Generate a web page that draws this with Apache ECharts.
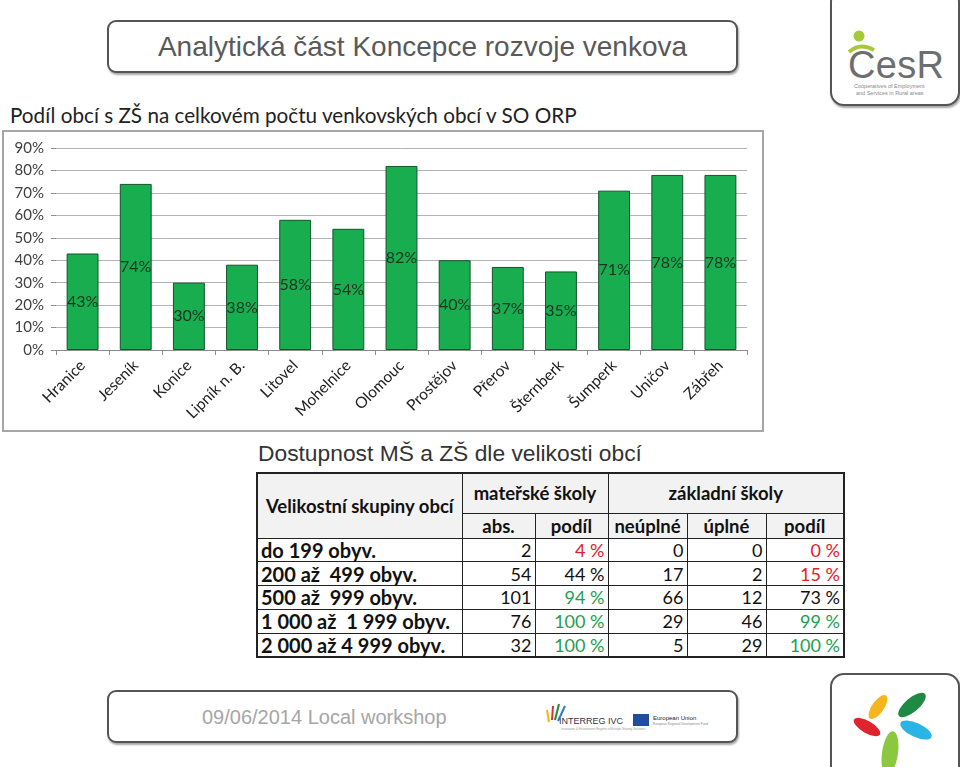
<!DOCTYPE html>
<html>
<head>
<meta charset="utf-8">
<script src="https://cdn.jsdelivr.net/npm/echarts@6/dist/echarts.min.js"></script>
<style>
  html, body { margin: 0; padding: 0; background: #fff; }
  body { width: 960px; height: 767px; position: relative; overflow: hidden; font-family: Lato, "Noto Sans", sans-serif; }
  .box {
    position: absolute; box-sizing: border-box;
    border: 2px solid #555; border-radius: 9px;
    box-shadow: 1px 2px 2px rgba(0,0,0,0.35);
    background: #fff;
  }
  #titleBox { left: 107px; top: 20px; width: 631px; height: 53px; }
  #titleBox span {
    display: block; text-align: center; line-height: 49px;
    font-family: "Liberation Sans", Arial, sans-serif; font-size: 28px; color: #595959;
  }
  #footBox { left: 107px; top: 690px; width: 631px; height: 53px; }
  #footBox .date {
    position: absolute; left: 93px; top: 14px;
    font-family: "Liberation Sans", Arial, sans-serif; font-size: 20px; color: #a6a6a6;
  }
  #logoTop { left: 830px; top: -12px; width: 130px; height: 118px; border-radius: 14px; }
  #logoBot { left: 830px; top: 673px; width: 130px; height: 110px; border-radius: 14px; }
  #subTitle {
    position: absolute; left: 10px; top: 103px;
    font-size: 20.7px; line-height: 24px; color: #222;
  }
  #chartFrame {
    position: absolute; left: 2px; top: 130px; width: 758px; height: 298px;
    border: 2px solid #a6a6a6;
  }
  #chart { width: 758px; height: 298px; }
  #tableTitle {
    position: absolute; left: 258px; top: 440px;
    font-family: "Liberation Sans", Arial, sans-serif; font-size: 22.8px; color: #333;
  }
  #tbl {
    position: absolute; left: 256px; top: 472px;
    border-collapse: collapse; font-size: 17.5px; color: #111;
    border: 2px solid #222;
  }
  #tbl td { border: 1px solid #222; padding: 0 3px; white-space: nowrap; line-height: 22px; }
  #tbl .hd { background: #f2f2f2; font-weight: bold; text-align: center; font-size: 18.5px; }
  #tbl .rowname { font-weight: bold; text-align: left; padding-left: 3px; font-size: 20px; }
  #tbl .num { text-align: right; font-size: 18px; }
</style>
</head>
<body>
<div class="box" id="titleBox"><span>Analytická část Koncepce rozvoje venkova</span></div>

<div class="box" id="logoTop">
  <svg width="126" height="114" viewBox="0 0 126 114">
    <circle cx="27" cy="46" r="5.5" fill="#a6c93a"/>
    <path d="M17 62 Q 28 52 42 60" stroke="#a6c93a" stroke-width="4" fill="none"/>
    <text x="16" y="88" font-family="Liberation Sans, Arial" font-size="38" fill="#6d6e70" textLength="96">CesR</text>
    <text x="22" y="98" font-family="Liberation Sans, Arial" font-size="5.5" fill="#888">Cooperatives of Employment</text>
    <text x="24" y="105" font-family="Liberation Sans, Arial" font-size="5.5" fill="#888">and Services in Rural areas</text>
  </svg>
</div>

<div id="subTitle">Podíl obcí s ZŠ na celkovém počtu venkovských obcí v SO ORP</div>

<div id="chartFrame"><div id="chart"></div></div>

<div id="tableTitle">Dostupnost MŠ a ZŠ dle velikosti obcí</div>
<table id="tbl"></table>

<div class="box" id="footBox">
  <span class="date">09/06/2014 Local workshop</span>
  <svg style="position:absolute;left:432px;top:8px" width="190" height="34" viewBox="0 0 190 34">
    <path d="M8 22 L6 10" stroke="#f5b800" stroke-width="2"/>
    <path d="M11 20 L12 6" stroke="#e03030" stroke-width="2"/>
    <path d="M14 20 L18 4" stroke="#2a8a3a" stroke-width="2"/>
    <path d="M17 21 L24 6" stroke="#2b7bc4" stroke-width="2"/>
    <text x="18" y="24" font-family="Liberation Sans, Arial" font-size="9" fill="#334">INTERREG IVC</text>
    <text x="20" y="30" font-family="Liberation Sans, Arial" font-size="3" fill="#999">Innovation &amp; Environment Regions of Europe Sharing Solutions</text>
    <rect x="92" y="14" width="16" height="12" fill="#1f4ea1"/>
    <text x="112" y="20" font-family="Liberation Sans, Arial" font-size="6" fill="#223">European Union</text>
    <text x="112" y="25" font-family="Liberation Sans, Arial" font-size="3.2" fill="#888">European Regional Development Fund</text>
  </svg>
</div>

<div class="box" id="logoBot">
  <svg width="126" height="110" viewBox="0 0 126 110">
    <ellipse cx="46" cy="32" rx="6" ry="14" fill="#f5b51c" transform="rotate(35 46 32)"/>
    <ellipse cx="80" cy="30" rx="7" ry="17" fill="#1e8a44" transform="rotate(50 80 30)"/>
    <ellipse cx="35" cy="52" rx="6" ry="15" fill="#e0242e" transform="rotate(-60 35 52)"/>
    <ellipse cx="84" cy="55" rx="7" ry="17" fill="#2ab4e6" transform="rotate(-65 84 55)"/>
    <ellipse cx="58" cy="78" rx="8" ry="22" fill="#8cc83f" transform="rotate(8 58 78)"/>
  </svg>
</div>

<script>
// bar chart data
const towns = ['Hranice', 'Jeseník', 'Konice', 'Lipník n. B.', 'Litovel', 'Mohelnice', 'Olomouc',
  'Prostějov', 'Přerov', 'Šternberk', 'Šumperk', 'Uničov', 'Zábřeh'];
const shareZS = [43, 74, 30, 38, 58, 54, 82, 40, 37, 35, 71, 78, 78];
const yTicks = [0, 10, 20, 30, 40, 50, 60, 70, 80, 90];

// table data
const sizeGroups = ['do 199 obyv.', '200 až  499 obyv.', '500 až  999 obyv.', '1 000 až  1 999 obyv.', '2 000 až 4 999 obyv.'];
const msAbs = [2, 54, 101, 76, 32];
const msShare = [4, 44, 94, 100, 100];
const zsIncomplete = [0, 17, 66, 29, 5];
const zsComplete = [0, 2, 12, 46, 29];
const zsShare = [0, 15, 73, 99, 100];

function shareColor(v) {
  if (v <= 20) return '#e3202a';
  if (v >= 90) return '#1e9e4e';
  return '#111';
}

function buildTable() {
  const widths = [205, 73, 73, 79, 79, 78];
  let h = '<colgroup>' + widths.map(w => '<col style="width:' + w + 'px">').join('') + '</colgroup>';
  h += '<tr style="height:40px"><td class="hd" rowspan="2">Velikostní skupiny obcí</td>' +
       '<td class="hd" colspan="2">mateřské školy</td><td class="hd" colspan="3">základní školy</td></tr>';
  h += '<tr style="height:25px"><td class="hd">abs.</td><td class="hd">podíl</td><td class="hd">neúplné</td>' +
       '<td class="hd">úplné</td><td class="hd">podíl</td></tr>';
  sizeGroups.forEach((g, i) => {
    h += '<tr style="height:23.8px"><td class="rowname">' + g.replace(/ /g, '&nbsp;') + '</td>' +
      '<td class="num">' + msAbs[i] + '</td>' +
      '<td class="num" style="color:' + shareColor(msShare[i]) + '">' + msShare[i] + '&nbsp;%</td>' +
      '<td class="num">' + zsIncomplete[i] + '</td>' +
      '<td class="num">' + zsComplete[i] + '</td>' +
      '<td class="num" style="color:' + shareColor(zsShare[i]) + '">' + zsShare[i] + '&nbsp;%</td></tr>';
  });
  document.getElementById('tbl').innerHTML = h;
}
buildTable();

const chart = echarts.init(document.getElementById('chart'));
chart.setOption({
  animation: false,
  backgroundColor: '#fff',
  grid: { left: 52, right: 15, top: 16, bottom: 80 },
  xAxis: {
    type: 'category',
    data: towns,
    axisLine: { lineStyle: { color: '#8c8c8c' } },
    axisTick: { show: true, length: 5, lineStyle: { color: '#8c8c8c' } },
    axisLabel: { rotate: 45, fontFamily: 'Lato', fontSize: 15.5, color: '#222', margin: 13, interval: 0 }
  },
  yAxis: {
    type: 'value',
    min: yTicks[0],
    max: yTicks[yTicks.length - 1],
    interval: 10,
    axisLine: { show: false },
    axisTick: { show: true, length: 5, lineStyle: { color: '#8c8c8c' } },
    axisLabel: { formatter: '{value}%', fontFamily: 'Lato', fontSize: 15, color: '#404040', margin: 12 },
    splitLine: { lineStyle: { color: '#b3b3b3' } }
  },
  series: [{
    type: 'bar',
    data: shareZS,
    barWidth: '60%',
    itemStyle: { color: '#18ad4f', borderColor: '#14532b', borderWidth: 1 },
    label: {
      show: true, position: 'inside', formatter: '{c}%',
      fontFamily: 'Lato', fontSize: 16, color: '#1c3322'
    }
  }]
});
</script>
</body>
</html>
